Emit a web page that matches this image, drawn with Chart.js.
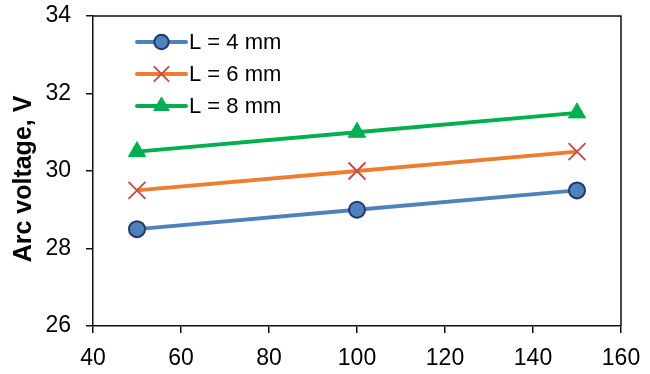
<!DOCTYPE html>
<html>
<head>
<meta charset="utf-8">
<script src="https://cdn.jsdelivr.net/npm/chart.js@4"></script>
<style>
  html, body { margin: 0; padding: 0; background: #fff; }
  canvas { display: block; }
</style>
</head>
<body>
<canvas id="arcChart" width="650" height="374"></canvas>
<script>
// ===== data =====
const currents = [50, 100, 150];
const volt4mm = [28.5, 29, 29.5];
const volt6mm = [29.5, 30, 30.5];
const volt8mm = [30.5, 31, 31.5];
const seriesNames = ['L = 4 mm', 'L = 6 mm', 'L = 8 mm'];
const xTicks = [40, 60, 80, 100, 120, 140, 160];
const yTicks = [26, 28, 30, 32, 34];
const yTitle = 'Arc voltage, V';

const FONT = '"Liberation Sans", Arial, sans-serif';

function pts(vals) {
  return currents.map((x, i) => ({ x: x, y: vals[i] }));
}

// ===== plot box (top + right edges) =====
const boxPlugin = {
  id: 'box',
  beforeDatasetsDraw(chart) {
    const { ctx, chartArea: a } = chart;
    ctx.save();
    ctx.strokeStyle = '#111';
    ctx.lineWidth = 1.5;
    ctx.beginPath();
    ctx.moveTo(a.left, a.top);
    ctx.lineTo(a.right, a.top);
    ctx.lineTo(a.right, a.bottom);
    ctx.stroke();
    ctx.restore();
  }
};

// ===== y title =====
const yTitlePlugin = {
  id: 'yTitle',
  afterDraw(chart) {
    const ctx = chart.ctx;
    ctx.save();
    ctx.translate(31, 179);
    ctx.rotate(-Math.PI / 2);
    ctx.font = 'bold 25px ' + FONT;
    ctx.fillStyle = '#000';
    ctx.textAlign = 'center';
    ctx.textBaseline = 'alphabetic';
    ctx.fillText(yTitle, 0, 0);
    ctx.restore();
  }
};

// ===== legend: line sample + marker =====
const legendPlugin = {
  id: 'lineLegend',
  afterDraw(chart) {
    const ctx = chart.ctx;
    const x0 = 137, x1 = 186, rowY = [42, 74, 106];
    chart.data.datasets.forEach((ds, i) => {
      const y = rowY[i];
      ctx.save();
      ctx.strokeStyle = ds.borderColor;
      ctx.lineWidth = ds.borderWidth;
      ctx.lineCap = 'round';
      ctx.beginPath();
      ctx.moveTo(x0, y);
      ctx.lineTo(x1, y);
      ctx.stroke();
      ctx.restore();
      ctx.save();
      ctx.fillStyle = ds.pointBackgroundColor;
      ctx.strokeStyle = ds.pointBorderColor;
      ctx.lineWidth = ds.pointBorderWidth;
      Chart.helpers.drawPoint(ctx, {
        pointStyle: ds.pointStyle,
        radius: ds.pointRadius * 0.9,
        rotation: 0,
        borderWidth: ds.pointBorderWidth
      }, (x0 + x1) / 2, y);
      ctx.restore();
      ctx.save();
      ctx.font = '22px ' + FONT;
      ctx.fillStyle = '#000';
      ctx.textBaseline = 'middle';
      ctx.fillText(ds.label, x1 + 3, y + 1);
      ctx.restore();
    });
  }
};

const ctx = document.getElementById('arcChart').getContext('2d');
new Chart(ctx, {
  type: 'scatter',
  data: {
    datasets: [
      {
        label: seriesNames[0], data: pts(volt4mm), showLine: true,
        borderColor: '#4F81BD', borderWidth: 4,
        pointStyle: 'circle', pointRadius: 8,
        pointBackgroundColor: '#4F81BD', pointBorderColor: '#1F3A68', pointBorderWidth: 2
      },
      {
        label: seriesNames[1], data: pts(volt6mm), showLine: true,
        borderColor: '#ED7D31', borderWidth: 4,
        pointStyle: 'crossRot', pointRadius: 12,
        pointBackgroundColor: '#C0504D', pointBorderColor: '#C0504D', pointBorderWidth: 2
      },
      {
        label: seriesNames[2], data: pts(volt8mm), showLine: true,
        borderColor: '#00B050', borderWidth: 4,
        pointStyle: 'triangle', pointRadius: 10,
        pointBackgroundColor: '#00B050', pointBorderColor: '#00B050', pointBorderWidth: 1
      }
    ]
  },
  options: {
    responsive: false,
    animation: false,
    layout: { padding: { top: 16, right: 29, left: 0, bottom: 0 } },
    plugins: {
      legend: { display: false },
      tooltip: { enabled: false }
    },
    scales: {
      x: {
        type: 'linear', min: 40, max: 160,
        afterBuildTicks: s => { s.ticks = xTicks.map(v => ({ value: v })); },
        afterFit: s => { s.height = 48; s.paddingLeft = 0; s.paddingRight = 0; },
        border: { display: true, color: '#111', width: 1.5 },
        grid: { drawOnChartArea: false, drawTicks: true, tickLength: 7, color: '#111', lineWidth: 1.5 },
        ticks: { color: '#000', padding: 12, maxRotation: 0, font: { family: FONT, size: 23 } }
      },
      y: {
        type: 'linear', min: 26, max: 34,
        afterBuildTicks: s => { s.ticks = yTicks.map(v => ({ value: v })); },
        afterFit: s => { s.width = 93; s.paddingTop = 0; s.paddingBottom = 0; },
        border: { display: true, color: '#111', width: 1.5 },
        grid: { drawOnChartArea: false, drawTicks: true, tickLength: 7, color: '#111', lineWidth: 1.5 },
        ticks: { color: '#000', padding: 15, font: { family: FONT, size: 23 } }
      }
    }
  },
  plugins: [boxPlugin, yTitlePlugin, legendPlugin]
});
</script>
</body>
</html>
